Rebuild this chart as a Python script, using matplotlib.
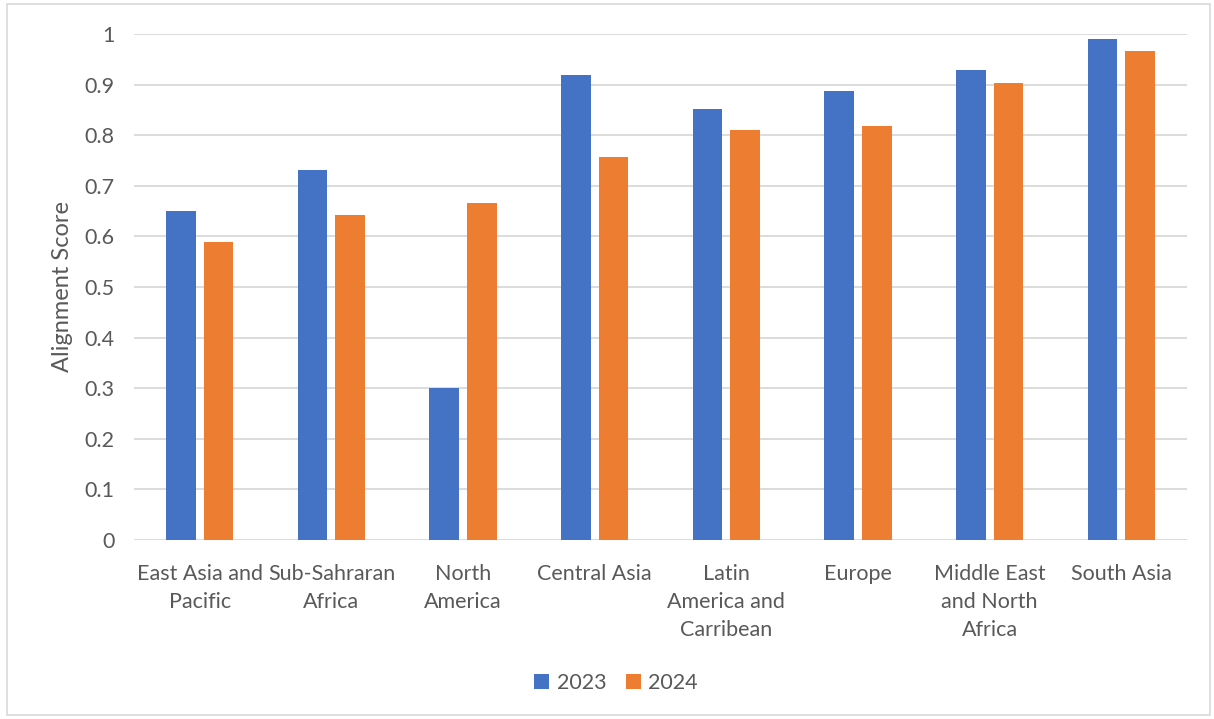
import numpy as np
import matplotlib
matplotlib.use('Agg')
import matplotlib.pyplot as plt
from matplotlib.patches import Rectangle

regions = ['East Asia and\nPacific', 'Sub-Sahraran\nAfrica', 'North\nAmerica', 'Central Asia',
           'Latin\nAmerica and\nCarribean', 'Europe', 'Middle East\nand North\nAfrica', 'South Asia']
score_2023 = [0.65, 0.731, 0.30, 0.919, 0.852, 0.887, 0.929, 0.990]
score_2024 = [0.589, 0.642, 0.666, 0.757, 0.810, 0.818, 0.903, 0.966]
yticks = [0, 0.1, 0.2, 0.3, 0.4, 0.5, 0.6, 0.7, 0.8, 0.9, 1]
ytick_labels = ['0', '0.1', '0.2', '0.3', '0.4', '0.5', '0.6', '0.7', '0.8', '0.9', '1']

plt.rcParams['font.family'] = ['Lato', 'DejaVu Sans']
textcol = '#595959'

fig = plt.figure(figsize=(12.14, 7.19), dpi=100)
ax = fig.add_axes([134/1214, 1-540/719, 1053/1214, 506/719])

x = np.arange(len(regions))
w = 0.225
b1 = ax.bar(x - 0.1425, score_2023, w, color='#4472C4', label='2023')
b2 = ax.bar(x + 0.1425, score_2024, w, color='#ED7D31', label='2024')

ax.set_xlim(-0.5, len(regions) - 0.5)
ax.set_ylim(0, 1)
ax.set_yticks(yticks)
ax.set_yticklabels(ytick_labels)
ax.set_xticks(x)
ax.set_xticklabels(regions, linespacing=1.5, va='top')
ax.tick_params(axis='both', length=0, colors=textcol, labelsize=15.5)
ax.tick_params(axis='x', pad=17)
ax.tick_params(axis='y', pad=14)
ax.yaxis.grid(True, color='#D9D9D9', linewidth=1.3)
ax.set_axisbelow(True)
for s in ax.spines.values():
    s.set_visible(False)
ax.set_ylabel('Alignment Score', color=textcol, fontsize=17, labelpad=8)

fig.legend(handles=[b1, b2], loc='center', bbox_to_anchor=(616/1214, 1-683/719), ncol=2,
           frameon=False, fontsize=15.5, labelcolor=textcol, handlelength=0.7, handleheight=0.7,
           columnspacing=0.9, handletextpad=0.35)

fig.patches.append(Rectangle((7/1214, 1-715/719), 1203/1214, 711/719, transform=fig.transFigure,
                             fill=False, edgecolor='#D9D9D9', linewidth=1.2))

fig.savefig('out.png', dpi=100)
